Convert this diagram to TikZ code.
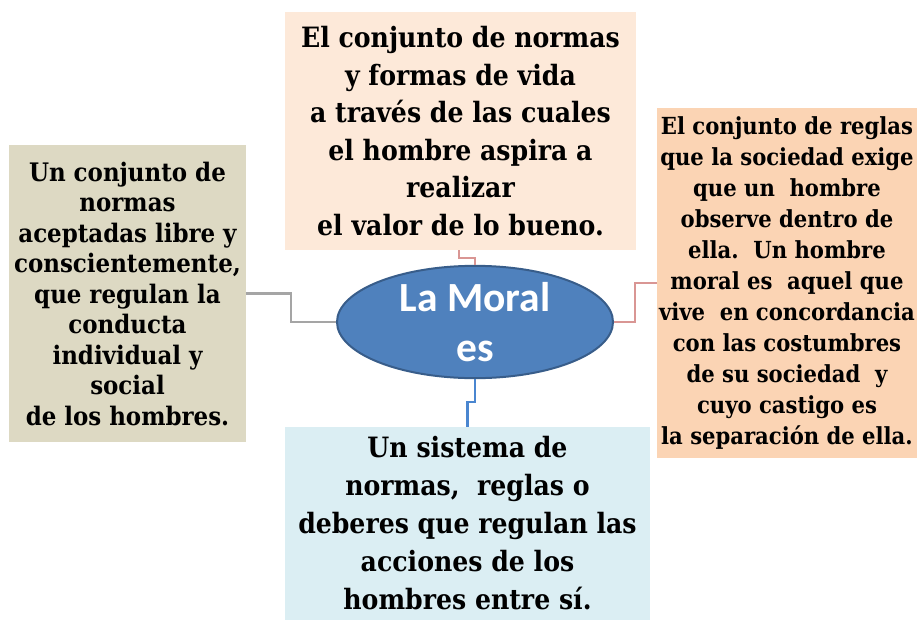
\documentclass[tikz,border=0pt]{standalone}
\usepackage{fontspec}
\setmainfont{DejaVu Serif Condensed}
\newfontfamily\elfont{Carlito}
\usetikzlibrary{shapes.geometric}
\definecolor{topfill}{HTML}{FDE9D9}
\definecolor{rightfill}{HTML}{FBD4B4}
\definecolor{leftfill}{HTML}{DDD9C3}
\definecolor{botfill}{HTML}{DBEEF3}
\definecolor{ellfill}{HTML}{4F81BD}
\definecolor{elldraw}{HTML}{385D8A}
\definecolor{grayline}{HTML}{A5A5A5}
\definecolor{pinkline}{HTML}{D99694}
\definecolor{blueline}{HTML}{4A86D0}
\tikzset{
  textbox/.style={rectangle, inner sep=0pt, align=center, font=\bfseries},
  link/.style={line width=2.8pt},
}
\begin{document}
\begin{tikzpicture}[x=1pt,y=-1pt]
\useasboundingbox (0,0) rectangle (917,621);
\node[textbox, fill=topfill, minimum width=351pt, minimum height=238pt,
  font=\bfseries\fontsize{28}{37.5}\selectfont] (top) at (460.5,131)
  {El conjunto de normas\\ y formas de vida\\ a través de las cuales\\ el hombre aspira a\\ realizar\\ el valor de lo bueno.};
\node[textbox, fill=leftfill, minimum width=237pt, minimum height=297pt,
  font=\bfseries\fontsize{25.5}{30.5}\selectfont] (left) at (127.5,293.5)
  {Un conjunto de\\ normas\\ aceptadas libre y\\ conscientemente,\\ que regulan la\\ conducta\\ individual y\\ social\\ de los hombres.};
\node[textbox, fill=rightfill, minimum width=260pt, minimum height=350pt,
  font=\bfseries\fontsize{23.5}{31}\selectfont] (right) at (787,283)
  {El conjunto de reglas\\ que la sociedad exige\\ que un\ \ hombre\\ observe dentro de\\ ella.\ \ Un hombre\\ moral es\ \ aquel que\\ vive\ \ en concordancia\\ con las costumbres\\ de su sociedad\ \ y\\ cuyo castigo es\\ la separación de ella.};
\node[textbox, fill=botfill, minimum width=365pt, minimum height=193pt,
  font=\bfseries\fontsize{28}{38}\selectfont] (bottom) at (467.5,523.5)
  {Un sistema de\\ normas,\ \ reglas o\\ deberes que regulan las\\ acciones de los\\ hombres entre sí.};
\node[ellipse, fill=ellfill, draw=elldraw, line width=2pt, minimum width=276pt, minimum height=110pt,
  inner sep=0pt, align=center, text=white, font=\elfont\bfseries\fontsize{41.5}{50}\selectfont] (moral) at (475,322)
  {La Moral\\ es};
\draw[link, grayline] (left.east) -- (291,293.5) |- (moral.west);
\draw[link, pinkline] (459,250) -- (459,258) -| (moral.north);
\draw[link, pinkline] (moral.east) -- (635,322) |- (right.west);
\draw[link, blueline] (moral.south) -- (475,402) -| (bottom.north);
\end{tikzpicture}
\end{document}
